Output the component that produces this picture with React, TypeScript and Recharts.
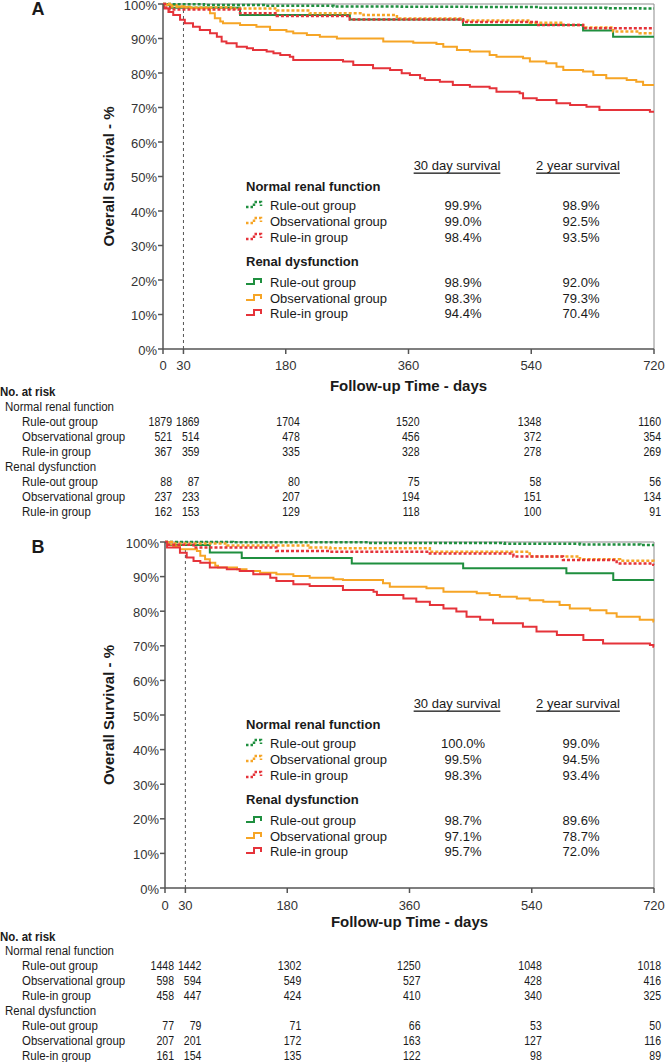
import React from 'react';
import { Label, Legend, Line, LineChart, ReferenceLine, XAxis, YAxis } from 'recharts';

type Pt = [number, number];

// Panel A - Kaplan-Meier steps: [day, survival %]
const aNormRuleOut: Pt[] = [[0, 100], [10, 99.9], [60, 99.7], [150, 99.5], [250, 99.3], [350, 99.2], [450, 99.1], [550, 98.9], [650, 98.8], [700, 98.7], [720, 98.7]];
const aNormObs: Pt[] = [[0, 100], [10, 99.3], [30, 99.0], [100, 98.7], [167, 98.1], [215, 97.3], [294, 96.8], [343, 95.8], [440, 95.2], [538, 94.6], [587, 93.9], [616, 93.2], [660, 92.0], [699, 91.5], [720, 91.5]];
const aNormRuleIn: Pt[] = [[0, 100], [3, 99.0], [10, 98.4], [113, 97.3], [167, 96.5], [274, 95.5], [440, 94.8], [548, 93.9], [616, 93.0], [720, 93.0]];
const aDysRuleOut: Pt[] = [[0, 100], [10, 98.9], [113, 96.8], [274, 95.5], [440, 93.9], [616, 92.3], [660, 90.5], [720, 90.5]];
const aDysObs: Pt[] = [[0, 100], [5, 99.7], [20, 99.2], [40, 98.8], [69, 97.3], [76, 95.9], [84, 94.9], [88, 94.4], [113, 93.9], [137, 93.4], [157, 92.5], [181, 92.0], [191, 91.5], [211, 91.0], [230, 90.5], [255, 90.0], [323, 89.1], [367, 88.8], [401, 88.4], [411, 87.6], [431, 86.7], [450, 86.2], [479, 85.2], [489, 84.7], [528, 84.3], [538, 83.3], [562, 82.8], [577, 81.8], [587, 80.9], [616, 80.4], [631, 79.4], [650, 78.5], [680, 78.0], [694, 77.5], [704, 76.5], [720, 76.5]];
const aDysRuleIn: Pt[] = [[0, 100], [1.5, 98.7], [8, 97.7], [15, 96.8], [25, 95.4], [32, 94.4], [44, 93.4], [54, 92.5], [69, 91.5], [79, 90.5], [86, 89.1], [93, 88.6], [108, 87.6], [123, 87.2], [132, 86.7], [152, 86.2], [162, 85.7], [172, 85.2], [186, 84.7], [191, 83.8], [264, 83.3], [279, 82.3], [308, 81.4], [333, 80.9], [350, 79.9], [362, 79.4], [377, 78.5], [384, 78.0], [406, 77.5], [425, 76.5], [450, 76.0], [479, 75.6], [489, 74.6], [523, 74.1], [528, 72.7], [548, 72.2], [577, 71.2], [597, 70.7], [621, 70.2], [640, 69.3], [714, 68.8], [720, 68.8]];

// Panel B
const bNormRuleOut: Pt[] = [[0, 100], [100, 99.9], [300, 99.7], [500, 99.5], [611, 99.3], [700, 99.1], [720, 99.1]];
const bNormObs: Pt[] = [[0, 100], [10, 99.6], [91, 99.0], [213, 98.4], [243, 98.2], [390, 97.2], [537, 95.8], [611, 95.0], [670, 94.6], [719, 94.3], [720, 94.3]];
const bNormRuleIn: Pt[] = [[0, 100], [5, 99.2], [42, 98.4], [164, 97.4], [243, 97.2], [390, 96.7], [513, 95.8], [586, 94.8], [665, 93.8], [719, 93.4], [720, 93.4]];
const bDysRuleOut: Pt[] = [[0, 100], [5, 99.1], [66, 97.0], [113, 95.4], [275, 93.8], [439, 92.4], [591, 91.0], [660, 89.0], [720, 89.0]];
const bDysObs: Pt[] = [[0, 100], [5, 99.3], [12, 98.8], [22, 97.9], [47, 97.4], [52, 96.0], [59, 95.0], [66, 94.0], [74, 93.1], [78, 92.6], [106, 92.1], [120, 91.6], [140, 91.1], [164, 90.7], [189, 90.2], [213, 89.7], [248, 89.2], [262, 89.0], [321, 88.1], [331, 87.1], [385, 86.6], [410, 85.6], [459, 85.2], [478, 84.7], [493, 84.2], [518, 83.7], [537, 83.2], [557, 82.7], [581, 81.8], [596, 80.8], [626, 80.3], [650, 79.4], [665, 78.4], [699, 77.5], [719, 77.0], [720, 77.0]];
const bDysRuleIn: Pt[] = [[0, 100], [3, 98.4], [22, 96.9], [32, 95.5], [42, 94.5], [52, 94.0], [66, 92.6], [91, 92.1], [110, 91.6], [130, 90.7], [155, 89.7], [164, 88.7], [189, 87.8], [213, 87.3], [262, 86.1], [307, 85.6], [312, 84.7], [351, 83.7], [370, 82.7], [390, 81.8], [410, 80.8], [429, 79.9], [444, 78.4], [464, 77.5], [483, 76.5], [527, 75.5], [547, 74.1], [577, 73.1], [616, 71.7], [645, 70.7], [714, 70.2], [719, 69.7], [720, 69.7]];

const riskDays = [0, 30, 180, 360, 540, 720];
const survivalTicks = [0, 10, 20, 30, 40, 50, 60, 70, 80, 90, 100];
const groupNames = ['Rule-out group', 'Observational group', 'Rule-in group'];
const sectionNames = ['Normal renal function', 'Renal dysfunction'];

// numbers at risk
const aRiskNormRuleOut = [1879, 1869, 1704, 1520, 1348, 1160];
const aRiskNormObs = [521, 514, 478, 456, 372, 354];
const aRiskNormRuleIn = [367, 359, 335, 328, 278, 269];
const aRiskDysRuleOut = [88, 87, 80, 75, 58, 56];
const aRiskDysObs = [237, 233, 207, 194, 151, 134];
const aRiskDysRuleIn = [162, 153, 129, 118, 100, 91];

const bRiskNormRuleOut = [1448, 1442, 1302, 1250, 1048, 1018];
const bRiskNormObs = [598, 594, 549, 527, 428, 416];
const bRiskNormRuleIn = [458, 447, 424, 410, 340, 325];
const bRiskDysRuleOut = [77, 79, 71, 66, 53, 50];
const bRiskDysObs = [207, 201, 172, 163, 127, 116];
const bRiskDysRuleIn = [161, 154, 135, 122, 98, 89];

// 30 day / 2 year survival, order: normal (out, obs, in), dysfunction (out, obs, in)
const a30Day = [99.9, 99.0, 98.4, 98.9, 98.3, 94.4];
const a2Year = [98.9, 92.5, 93.5, 92.0, 79.3, 70.4];
const b30Day = [100.0, 99.5, 98.3, 98.7, 97.1, 95.7];
const b2Year = [99.0, 94.5, 93.4, 89.6, 78.7, 72.0];

const FONT = '"Liberation Sans", Arial, Helvetica, sans-serif';
const COLORS = ['#1f8f3f', '#f6a526', '#e5333a'];
const INK = '#1a1a1a';
// the at-risk table is set in a condensed face: squeeze Liberation Sans
const TABLE_SIZE = 13.5;
const LABEL_X = 0.85;
const DIGIT_X = 0.78;
const MT = 8; // chart top margin

const layoutA = { top: -4, plotHeight: 345, axisWidth: 163, axisHeight: 171, tickDy: 16, titleDy: 36, riskTitleDy: 43, riskFirstDy: 58, riskStep: 15 };
const layoutB = { top: 534, plotHeight: 346, axisWidth: 165, axisHeight: 174, tickDy: 17, titleDy: 33, riskTitleDy: 49, riskFirstDy: 63, riskStep: 14.9 };
const colDx = [9, 16, 14, 11, 10, 7];

const toRows = (pts: Pt[]) => pts.map(([day, s]) => ({ day, s }));

function NarrowText({ x, y, sx, anchor = 'start', bold = false, children }: any) {
  return (
    <text
      transform={`translate(${x},${y}) scale(${sx},1)`}
      textAnchor={anchor}
      dominantBaseline="central"
      fontSize={TABLE_SIZE}
      fontFamily={FONT}
      fontWeight={bold ? 'bold' : 'normal'}
      fill={INK}
    >
      {children}
    </text>
  );
}

function RiskTick(props: any) {
  const { x, y, payload, lay, riskNormal, riskDys } = props;
  const i = riskDays.indexOf(payload.value);
  const axisY = y - 7;
  const rowY = (k: number) => axisY + lay.riskFirstDy + k * lay.riskStep;
  const rows: (number[] | null)[] = [null, ...riskNormal, null, ...riskDys];
  return (
    <g>
      <text x={x} y={axisY + lay.tickDy} textAnchor="middle" dominantBaseline="central" fontSize={13} fontFamily={FONT} fill="#333">
        {payload.value}
      </text>
      {rows.map((r, k) =>
        r ? (
          <NarrowText key={k} x={x + colDx[i]} y={rowY(k)} sx={DIGIT_X} anchor="end">
            {r[i]}
          </NarrowText>
        ) : null
      )}
      {i === 0 && (
        <g>
          <NarrowText x={0} y={axisY + lay.riskTitleDy} sx={LABEL_X} bold>
            No. at risk
          </NarrowText>
          {rows.map((r, k) => {
            const sec = k === 0 ? 0 : k === 4 ? 1 : -1;
            return (
              <NarrowText key={k} x={sec >= 0 ? 5 : 22} y={rowY(k)} sx={LABEL_X}>
                {sec >= 0 ? sectionNames[sec] : groupNames[(k - 1) % 4]}
              </NarrowText>
            );
          })}
        </g>
      )}
    </g>
  );
}

function PanelLegend({ letter, day30, year2 }: { letter: string; day30: number[]; year2: number[] }) {
  const top = MT;
  const itemDy = [[201, 217, 233], [278, 294, 309]];
  const secDy = [182, 257];
  return (
    <svg width={666} height={330} style={{ display: 'block' }} fontFamily={FONT}>
      <text x={38} y={top + 5} textAnchor="middle" dominantBaseline="central" fontSize={18} fontWeight="bold" fill={INK}>{letter}</text>
      <text x={457} y={top + 161} textAnchor="middle" dominantBaseline="central" fontSize={13} fill={INK} style={{ textDecoration: 'underline' }}>30 day survival</text>
      <text x={578} y={top + 161} textAnchor="middle" dominantBaseline="central" fontSize={13} fill={INK} style={{ textDecoration: 'underline' }}>2 year survival</text>
      {secDy.map((sy, s) => (
        <g key={s}>
          <text x={246} y={top + sy} dominantBaseline="central" fontSize={13} fontWeight="bold" fill={INK}>{sectionNames[s]}</text>
          {groupNames.map((g, k) => {
            const yy = top + itemDy[s][k];
            return (
              <g key={k}>
                <path d={`M246,${yy + 2} H254 V${yy - 3} H261 V${yy + 1}`} fill="none" stroke={COLORS[k]} strokeWidth={s === 0 ? 2.5 : 2} strokeDasharray={s === 0 ? '2.5 2' : undefined} />
                <text x={270} y={yy} dominantBaseline="central" fontSize={13} fill={INK}>{g}</text>
                <text x={463} y={yy} textAnchor="middle" dominantBaseline="central" fontSize={13} fill={INK}>{day30[s * 3 + k].toFixed(1)}%</text>
                <text x={581} y={yy} textAnchor="middle" dominantBaseline="central" fontSize={13} fill={INK}>{year2[s * 3 + k].toFixed(1)}%</text>
              </g>
            );
          })}
        </g>
      ))}
    </svg>
  );
}

function Panel(props: any) {
  const { letter, lay, normal, dys, riskNormal, riskDys, day30, year2 } = props;
  const height = MT + lay.plotHeight + lay.axisHeight;
  return (
    <div style={{ position: 'absolute', left: 0, top: lay.top }}>
      <LineChart width={666} height={height} margin={{ top: MT, right: 12, bottom: 0, left: 0 }}>
        <XAxis
          type="number"
          dataKey="day"
          domain={[0, 720]}
          ticks={riskDays}
          interval={0}
          height={lay.axisHeight}
          stroke="#555"
          strokeWidth={1.5}
          tickSize={5}
          tickMargin={2}
          tick={(p: any) => <RiskTick {...p} lay={lay} riskNormal={riskNormal} riskDys={riskDys} />}
        >
          <Label
            content={(lp: any) => {
              const vb = lp.viewBox;
              return (
                <text x={vb.x + vb.width / 2} y={vb.y + lay.titleDy} textAnchor="middle" dominantBaseline="central" fontSize={15} fontWeight="bold" fontFamily={FONT} fill={INK}>
                  Follow-up Time - days
                </text>
              );
            }}
          />
        </XAxis>
        <YAxis
          type="number"
          domain={[0, 100]}
          ticks={survivalTicks}
          interval={0}
          width={lay.axisWidth}
          stroke="#555"
          strokeWidth={1.5}
          tickSize={5}
          tickMargin={1}
          tickFormatter={(v: number) => `${v}%`}
          tick={{ fill: '#333', fontSize: 13, fontFamily: FONT, dy: 1 }}
        >
          <Label
            content={(lp: any) => {
              const vb = lp.viewBox;
              const cy = vb.y + vb.height / 2;
              return (
                <text x={108} y={cy} transform={`rotate(-90 108 ${cy})`} textAnchor="middle" dominantBaseline="central" fontSize={15} fontWeight="bold" fontFamily={FONT} fill={INK}>
                  Overall Survival - %
                </text>
              );
            }}
          />
        </YAxis>
        <ReferenceLine y={100} stroke="#8c8c8c" strokeWidth={1} />
        <ReferenceLine x={720} stroke="#8c8c8c" strokeWidth={1} />
        <ReferenceLine x={30} stroke="#555" strokeWidth={1} strokeDasharray="3 3" />
        {dys.map((pts: Pt[], k: number) => (
          <Line key={`d${k}`} data={toRows(pts)} dataKey="s" name={`${sectionNames[1]} ${groupNames[k]}`} type="stepAfter" stroke={COLORS[k]} strokeWidth={2} dot={false} activeDot={false} isAnimationActive={false} />
        ))}
        {normal.map((pts: Pt[], k: number) => (
          <Line key={`n${k}`} data={toRows(pts)} dataKey="s" name={`${sectionNames[0]} ${groupNames[k]}`} type="stepAfter" stroke={COLORS[k]} strokeWidth={2.5} strokeDasharray="3 2" dot={false} activeDot={false} isAnimationActive={false} />
        ))}
        <Legend
          layout="horizontal"
          verticalAlign="middle"
          align="center"
          wrapperStyle={{ left: 0, top: 0, width: 666, height: 330 }}
          content={() => <PanelLegend letter={letter} day30={day30} year2={year2} />}
        />
      </LineChart>
    </div>
  );
}

export default function App() {
  return (
    <div style={{ position: 'absolute', left: 0, top: 0, width: 666, height: 1062, overflow: 'hidden', background: '#fff', fontFamily: FONT }}>
      <Panel
        letter="A"
        lay={layoutA}
        normal={[aNormRuleOut, aNormObs, aNormRuleIn]}
        dys={[aDysRuleOut, aDysObs, aDysRuleIn]}
        riskNormal={[aRiskNormRuleOut, aRiskNormObs, aRiskNormRuleIn]}
        riskDys={[aRiskDysRuleOut, aRiskDysObs, aRiskDysRuleIn]}
        day30={a30Day}
        year2={a2Year}
      />
      <Panel
        letter="B"
        lay={layoutB}
        normal={[bNormRuleOut, bNormObs, bNormRuleIn]}
        dys={[bDysRuleOut, bDysObs, bDysRuleIn]}
        riskNormal={[bRiskNormRuleOut, bRiskNormObs, bRiskNormRuleIn]}
        riskDys={[bRiskDysRuleOut, bRiskDysObs, bRiskDysRuleIn]}
        day30={b30Day}
        year2={b2Year}
      />
    </div>
  );
}
